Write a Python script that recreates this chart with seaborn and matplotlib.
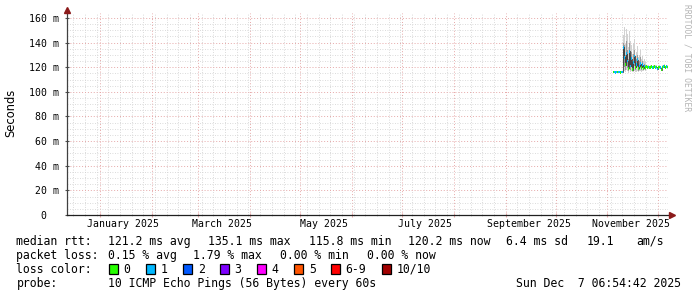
import matplotlib
matplotlib.use("Agg")
import matplotlib.pyplot as plt
import matplotlib.dates as mdates
from matplotlib.patches import Rectangle
import numpy as np
import pandas as pd
import seaborn as sns

# ---------------- data ----------------
t_start = "2024-12-12 06:54:42"
t_end = "2025-12-07 06:54:42"
n_points = 55
step = "864min"  # rrd column step

median = [116.0, 116.1, 115.9, 116.0, 116.0, 116.2, 116.0, 115.9, 116.1, 116.0,
          136, 128, 122, 131, 125, 119, 133, 121, 127, 118, 124, 129, 120, 122, 126, 119, 121, 123, 120, 122, 119, 121, 120,
          120.5, 120.0, 120.2, 119.8, 120.0, 120.3, 119.5, 120.0, 120.4, 119.9, 120.1, 118.5, 120.0, 120.2, 119.7, 117.8,
          120.0, 120.3, 121.0, 119.8, 120.5, 120.2]
smoke_hi = [117.0, 117.2, 116.8, 117.0, 117.1, 117.3, 117.0, 116.9, 117.2, 117.0,
            146, 153, 139, 151, 147, 136, 149, 141, 138, 131, 140, 143, 129, 132, 137, 128, 130, 134, 127, 129, 125, 127, 124,
            122.0, 121.5, 121.8, 121.3, 121.6, 121.9, 121.2, 121.5, 122.0, 121.4, 121.7, 120.5, 121.6, 121.8, 121.3, 120.2,
            121.5, 121.9, 122.5, 121.3, 122.0, 121.8]
smoke_lo = [115.3, 115.4, 115.2, 115.3, 115.3, 115.5, 115.3, 115.2, 115.4, 115.3,
            116.5, 117.0, 116.0, 117.5, 116.8, 115.5, 118.0, 116.2, 117.0, 115.8, 116.5, 117.2, 116.0, 116.5, 117.0, 116.2, 116.8, 117.0, 116.5, 117.2, 116.8, 117.5, 117.0,
            119.0, 118.6, 118.8, 118.4, 118.7, 119.0, 118.2, 118.6, 119.0, 118.5, 118.8, 117.2, 118.7, 118.9, 118.4, 116.8,
            118.6, 119.0, 119.6, 118.5, 119.1, 118.9]
inner_hi = [116.5, 116.6, 116.4, 116.5, 116.5, 116.7, 116.5, 116.4, 116.6, 116.5,
            140, 138, 130, 141, 134, 127, 140, 130, 132, 124, 131, 134, 124, 127, 130, 123, 125, 128, 123, 125, 121, 123, 122,
            121.2, 120.8, 121.0, 120.6, 120.8, 121.1, 120.4, 120.8, 121.2, 120.7, 120.9, 119.4, 120.8, 121.0, 120.5, 118.9,
            120.8, 121.1, 121.8, 120.6, 121.3, 121.0]
inner_lo = [115.6, 115.7, 115.5, 115.6, 115.6, 115.8, 115.6, 115.5, 115.7, 115.6,
            122, 120, 118, 121, 119, 117, 122, 118, 120, 117, 119, 121, 118, 119, 120, 117, 118, 119, 118, 119, 118, 119, 118,
            119.8, 119.3, 119.5, 119.1, 119.3, 119.6, 118.8, 119.3, 119.7, 119.2, 119.4, 117.8, 119.3, 119.5, 119.0, 117.2,
            119.3, 119.6, 120.3, 119.1, 119.8, 119.5]
loss = [0, 1, 1, 1, 0, 1, 1, 0, 1, 1,
        1, 1, 0, 1, 1, 0, 1, 1, 1, 0, 1, 1, 0, 1, 1, 0, 1, 1, 0, 1, 0, 1, 0,
        0, 0, 1, 0, 0, 0, 1, 0, 0, 1, 0, 1, 0, 0, 1, 0, 0, 1, 0, 0, 1, 0]

loss_labels = ["0", "1", "2", "3", "4", "5", "6-9", "10/10"]
loss_colors = ["#26ff00", "#00b8ff", "#0059ff", "#7e00ff", "#ff00ff", "#ff5500", "#ff0000", "#a10000"]

y_ticks = [0, 20, 40, 60, 80, 100, 120, 140, 160]
y_ticklabels = ["0  ", "20 m", "40 m", "60 m", "80 m", "100 m", "120 m", "140 m", "160 m"]

stats_line1 = [("median rtt:", 16.5), ("121.2 ms avg", 108), ("135.1 ms max", 208), ("115.8 ms min", 309),
               ("120.2 ms now", 408), ("6.4 ms sd", 506.5), ("19.1", 586.5), ("am/s", 636)]
stats_line2 = [("packet loss:", 16.5), ("0.15 % avg", 108), ("1.79 % max", 193), ("0.00 % min", 280), ("0.00 % now", 367)]
probe_text = "10 ICMP Echo Pings (56 Bytes) every 60s"
date_text = "Sun Dec  7 06:54:42 2025"

# ---------------- figure ----------------
W, H = 697, 297
MONO = "DejaVu Sans Mono"
FS = 8.3      # legend text
FS_AX = 7.1   # axis tick labels

fig = plt.figure(figsize=(W / 100, H / 100), dpi=100)
fig.patch.set_facecolor("white")
L, R, T, B = 67, 668, 13, 215
ax = fig.add_axes([L / W, 1 - B / H, (R - L) / W, (B - T) / H])
ax.set_facecolor("white")

end = pd.Timestamp(t_end)
times = pd.date_range(end=end, periods=n_points, freq=step)
df = pd.DataFrame({"time": times, "median": median, "hi": smoke_hi, "lo": smoke_lo,
                   "ihi": inner_hi, "ilo": inner_lo, "loss": loss})

# smoke
ax.fill_between(df["time"], df["lo"], df["hi"], step="mid", color="#d2d2d2", lw=0, zorder=3)
ax.fill_between(df["time"], df["ilo"], df["ihi"], step="mid", color="#9a9a9a", lw=0, zorder=3)

# median connecting line
sns.lineplot(data=df, x="time", y="median", ax=ax, color="#202020", lw=0.5,
             drawstyle="steps-mid", zorder=4, legend=False)

# median coloured by loss
col_w = pd.Timedelta(step)
for tm, md, ls in zip(df["time"], df["median"], df["loss"]):
    ax.bar(tm, 2.2, bottom=md - 1.1, width=col_w, color=loss_colors[ls], lw=0, zorder=5)

# axes limits
ax.set_xlim(pd.Timestamp(t_start), end)
ax.set_ylim(0, 164)

# grids
ax.set_yticks(y_ticks)
ax.set_yticklabels(y_ticklabels, fontfamily=MONO, fontsize=FS_AX)
ax.yaxis.set_minor_locator(matplotlib.ticker.MultipleLocator(5))
ax.xaxis.set_major_locator(mdates.MonthLocator())
ax.xaxis.set_major_formatter(matplotlib.ticker.NullFormatter())
ax.xaxis.set_minor_locator(mdates.WeekdayLocator(byweekday=mdates.MO))

ax.grid(which="minor", color="#cfcfcf", linestyle=(0, (1, 2)), lw=0.6, zorder=1)
ax.grid(which="major", color="#e6a8a8", linestyle=(0, (1, 2)), lw=0.7, zorder=2)

ax.tick_params(axis="y", which="major", length=3, direction="inout", color="#505050", pad=4)
ax.tick_params(axis="y", which="minor", length=0)
ax.tick_params(axis="x", which="major", length=3, direction="inout", color="#e6a8a8")
ax.tick_params(axis="x", which="minor", length=2, direction="inout", color="#cfcfcf")

# month labels at mid-month
for mon in [1, 3, 5, 7, 9, 11]:
    d = pd.Timestamp(2025, mon, 15)
    ax.text(d, -3.5, d.strftime("%B %Y"), ha="center", va="top",
            fontfamily=MONO, fontsize=FS_AX, color="black", clip_on=False)

for s in ["top", "right"]:
    ax.spines[s].set_visible(False)
ax.spines["left"].set_color("#404040")
ax.spines["bottom"].set_color("#202020")
ax.spines["left"].set_linewidth(0.9)
ax.spines["bottom"].set_linewidth(0.9)
ax.spines["left"].set_zorder(6)
ax.spines["bottom"].set_zorder(6)

# arrows
ax.plot([0], [1.015], marker="^", color="#8b1a1a", markersize=4.5, transform=ax.transAxes, clip_on=False, zorder=7)
ax.plot([1.006], [0], marker=">", color="#8b1a1a", markersize=4.5, transform=ax.transAxes, clip_on=False, zorder=7)

ax.set_xlabel("")
ax.set_ylabel("")
fig.text(11 / W, 1 - 113 / H, "Seconds", rotation=90, ha="center", va="center",
         fontfamily="DejaVu Sans", fontsize=8.3)

# watermark
fig.text(687 / W, 1 - 4 / H, "RRDTOOL / TOBI OETIKER", rotation=-90, ha="center", va="top",
         fontfamily=MONO, fontsize=5.8, color="#b4b4b4")

# legend lines (baseline aligned)
def ybase(y):
    return 1 - (y + 4) / H

for txt, x in stats_line1:
    fig.text(x / W, ybase(241), txt, ha="left", va="baseline", fontfamily=MONO, fontsize=FS)
for txt, x in stats_line2:
    fig.text(x / W, ybase(255), txt, ha="left", va="baseline", fontfamily=MONO, fontsize=FS)

fig.text(16.5 / W, ybase(269), "loss color:", ha="left", va="baseline", fontfamily=MONO, fontsize=FS)
sq_x = [109, 146, 183, 220, 257, 294, 331, 382]
lab_x = [123, 161, 198, 234, 271, 309, 345, 397]
for lbl, col, sx, lx in zip(loss_labels, loss_colors, sq_x, lab_x):
    fig.patches.append(Rectangle((sx / W, 1 - 274 / H), 9 / W, 10 / H, transform=fig.transFigure,
                                 facecolor=col, edgecolor="black", lw=0.9))
    fig.text(lx / W, ybase(269), lbl, ha="left", va="baseline", fontfamily=MONO, fontsize=FS)

fig.text(16.5 / W, ybase(283), "probe:", ha="left", va="baseline", fontfamily=MONO, fontsize=FS)
fig.text(108 / W, ybase(283), probe_text, ha="left", va="baseline", fontfamily=MONO, fontsize=FS)
fig.text(681 / W, ybase(283), date_text, ha="right", va="baseline", fontfamily=MONO, fontsize=FS)

fig.savefig("out.png", dpi=100, facecolor="white")
